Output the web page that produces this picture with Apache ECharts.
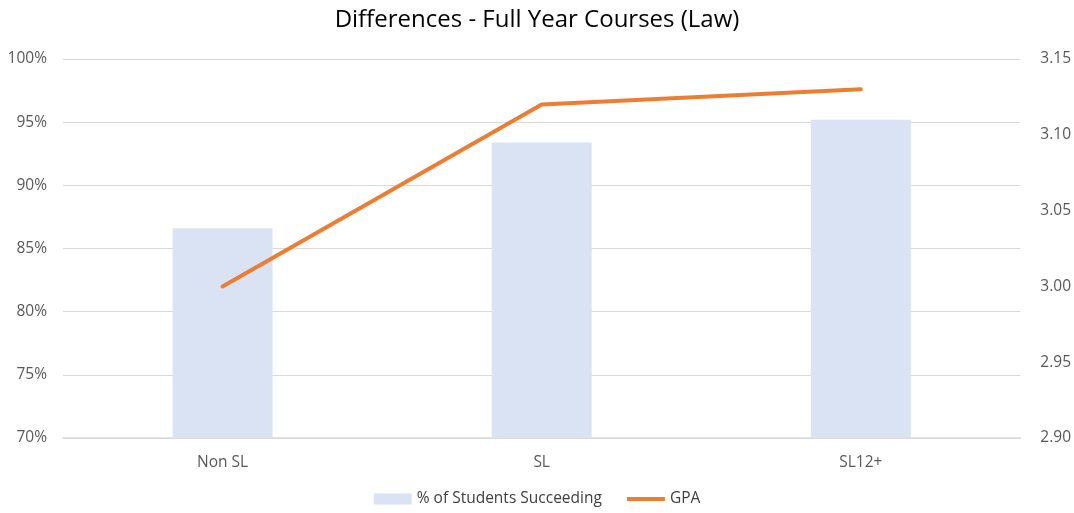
<!DOCTYPE html>
<html>
<head>
<meta charset="utf-8">
<script src="https://cdn.jsdelivr.net/npm/echarts@6/dist/echarts.min.js"></script>
<style>
  html, body { margin: 0; padding: 0; background: #fff; }
  #chart { width: 1074px; height: 513px; }
</style>
</head>
<body>
<div id="chart"></div>
<script>
// data
const categories = ["Non SL", "SL", "SL12+"];
const successPct = [86.6, 93.4, 95.2];
const gpa = [3.00, 3.12, 3.13];

const font = "'Open Sans', 'Noto Sans', sans-serif";

const chart = echarts.init(document.getElementById("chart"));

chart.setOption({
  animation: false,
  textStyle: { fontFamily: font },
  title: {
    text: "Differences - Full Year Courses (Law)",
    left: "center",
    top: 3,
    textStyle: { fontFamily: font, fontSize: 24, fontWeight: "normal", color: "#000" },
  },
  grid: { left: 63, right: 52, top: 59, bottom: 75 },
  legend: {
    bottom: 1,
    itemGap: 25,
    itemWidth: 38,
    itemHeight: 11,
    textStyle: { fontFamily: font, fontSize: 15.5, color: "#404040" },
    data: [
      { name: "% of Students Succeeding", icon: "rect" },
      { name: "GPA", icon: "path://M0,0 H40 V4 H0 Z" },
    ],
  },
  xAxis: {
    type: "category",
    data: categories,
    axisTick: { show: false },
    axisLine: { lineStyle: { color: "#d9d9d9", width: 1.5 } },
    axisLabel: { color: "#595959", fontSize: 15.5, margin: 17, fontFamily: font },
  },
  yAxis: [
    {
      type: "value",
      min: 70,
      max: 100,
      interval: 5,
      axisLabel: { formatter: "{value}%", color: "#595959", fontSize: 15.5, margin: 16, fontFamily: font },
      splitLine: { lineStyle: { color: "#d9d9d9", width: 1.2 } },
      axisLine: { show: false },
      axisTick: { show: false },
    },
    {
      type: "value",
      min: 2.9,
      max: 3.15,
      interval: 0.05,
      axisLabel: {
        formatter: (v) => v.toFixed(2),
        color: "#595959",
        fontSize: 15.5,
        margin: 20,
        fontFamily: font,
      },
      splitLine: { show: false },
      axisLine: { show: false },
      axisTick: { show: false },
    },
  ],
  series: [
    {
      name: "% of Students Succeeding",
      type: "bar",
      data: successPct,
      barWidth: 100,
      itemStyle: { color: "#dae3f3" },
    },
    {
      name: "GPA",
      type: "line",
      yAxisIndex: 1,
      data: gpa,
      symbol: "none",
      lineStyle: { color: "#ed7d31", width: 4, cap: "round" },
      itemStyle: { color: "#ed7d31" },
    },
  ],
});
</script>
</body>
</html>
